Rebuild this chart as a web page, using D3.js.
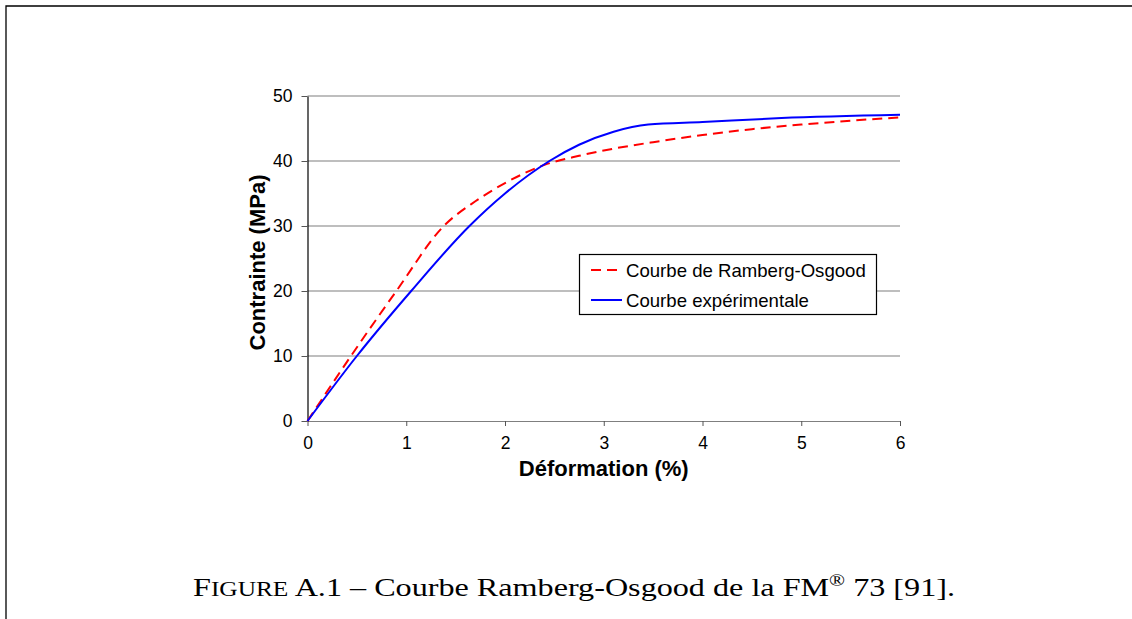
<!DOCTYPE html>
<html>
<head>
<meta charset="utf-8">
<script src="https://cdn.jsdelivr.net/npm/d3@7"></script>
<style>
html,body{margin:0;padding:0;background:#fff;}
svg{display:block;}
</style>
</head>
<body>
<svg id="chart" width="1132" height="619"></svg>
<script>
// ---- data ----
const xTicks = [0, 1, 2, 3, 4, 5, 6];
const yTicks = [0, 10, 20, 30, 40, 50];
const roStrain = [0, 0.44, 0.9, 1.38, 1.7, 2.0, 2.4, 2.75, 3.1, 3.5, 4.0, 4.5, 5.0, 5.5, 6];
const roStress = [0, 10, 20, 30, 33.8, 36.6, 39.4, 40.8, 41.9, 42.9, 44.0, 44.9, 45.6, 46.2, 46.7];
const expStrain = [0, 0.5, 1.05, 1.64, 2.0, 2.45, 2.75, 3.1, 3.45, 4.0, 4.8, 6];
const expStress = [0, 10, 20, 30, 35, 40, 42.5, 44.5, 45.6, 46.0, 46.6, 47.1];
const seriesNames = ["Courbe de Ramberg-Osgood", "Courbe expérimentale"];
const xTitle = "Déformation (%)";
const yTitle = "Contrainte (MPa)";

const svg = d3.select("#chart");
const font = "'Liberation Sans', Arial, sans-serif";

// page border (left + top)
svg.append("path").attr("d", "M6,619 V6 H1132").attr("fill", "none").attr("stroke", "#000").attr("stroke-width", 1.3);

const x = d3.scaleLinear().domain([0, 6]).range([307.5, 900]);
const y = d3.scaleLinear().domain([0, 50]).range([421, 96]);

// gridlines
svg.append("g").selectAll("line").data(yTicks.filter(d => d > 0)).join("line")
  .attr("x1", x(0)).attr("x2", x(6)).attr("y1", d => y(d)).attr("y2", d => y(d))
  .attr("stroke", "#7f7f7f").attr("stroke-width", 1.2);

// x axis
const gx = svg.append("g").attr("transform", `translate(0,${y(0)})`)
  .call(d3.axisBottom(x).tickValues(xTicks).tickFormat(d3.format("d")).tickSize(5).tickPadding(11).tickSizeOuter(0));
gx.select(".domain").attr("stroke", "#7f7f7f").attr("stroke-width", 1.2);
gx.selectAll(".tick line").attr("stroke", "#555");
gx.selectAll("text").attr("font-family", font).attr("font-size", 17.5).attr("fill", "#000");

// y axis
const gy = svg.append("g").attr("transform", `translate(${x(0)},0)`)
  .call(d3.axisLeft(y).tickValues(yTicks).tickFormat(d3.format("d")).tickSize(6).tickPadding(9).tickSizeOuter(0));
gy.select(".domain").attr("stroke", "#000").attr("stroke-width", 1.2);
gy.selectAll(".tick line").attr("stroke", "#555");
gy.selectAll("text").attr("font-family", font).attr("font-size", 17.5).attr("fill", "#000");

// titles
svg.append("text").attr("x", (x(0) + x(6)) / 2).attr("y", 476).attr("text-anchor", "middle")
  .attr("font-family", font).attr("font-weight", "bold").attr("font-size", 22).text(xTitle);
svg.append("text").attr("transform", `translate(265,${(y(0) + y(50)) / 2 + 4}) rotate(-90)`)
  .attr("text-anchor", "middle").attr("font-family", font).attr("font-weight", "bold")
  .attr("font-size", 22).text(yTitle);

// curves
const line = d3.line().x(d => x(d[0])).y(d => y(d[1])).curve(d3.curveMonotoneX);
const roData = roStrain.map((s, i) => [s, roStress[i]]);
const expData = expStrain.map((s, i) => [s, expStress[i]]);
svg.append("path").attr("d", line(roData)).attr("fill", "none").attr("stroke", "#ff0000")
  .attr("stroke-width", 2).attr("stroke-dasharray", "10,6");
svg.append("path").attr("d", line(expData)).attr("fill", "none").attr("stroke", "#0000ff")
  .attr("stroke-width", 2);

// legend
const lg = svg.append("g");
lg.append("rect").attr("x", 579.5).attr("y", 254.5).attr("width", 297).attr("height", 60)
  .attr("fill", "#fff").attr("stroke", "#000").attr("stroke-width", 1.2);
const legendItems = [
  {name: seriesNames[0], color: "#ff0000", dash: "10,6", yy: 270},
  {name: seriesNames[1], color: "#0000ff", dash: null, yy: 300}
];
legendItems.forEach(it => {
  lg.append("line").attr("x1", 591).attr("x2", 622).attr("y1", it.yy).attr("y2", it.yy)
    .attr("stroke", it.color).attr("stroke-width", 2).attr("stroke-dasharray", it.dash);
  lg.append("text").attr("x", 626).attr("y", it.yy + 6.5).attr("font-family", font)
    .attr("font-size", 18.6).text(it.name);
});

// caption
const cap = svg.append("text").attr("x", 193).attr("y", 596)
  .attr("font-family", "'Liberation Serif', 'DejaVu Serif', serif").attr("font-size", 26)
  .attr("textLength", 762).attr("lengthAdjust", "spacingAndGlyphs");
cap.append("tspan").text("F");
cap.append("tspan").attr("font-size", 20.5).text("IGURE");
cap.append("tspan").text(" A.1 – Courbe Ramberg-Osgood de la FM");
cap.append("tspan").attr("font-size", 17).attr("dy", -10).text("®");
cap.append("tspan").attr("dy", 10).text(" 73 [91].");
</script>
</body>
</html>
